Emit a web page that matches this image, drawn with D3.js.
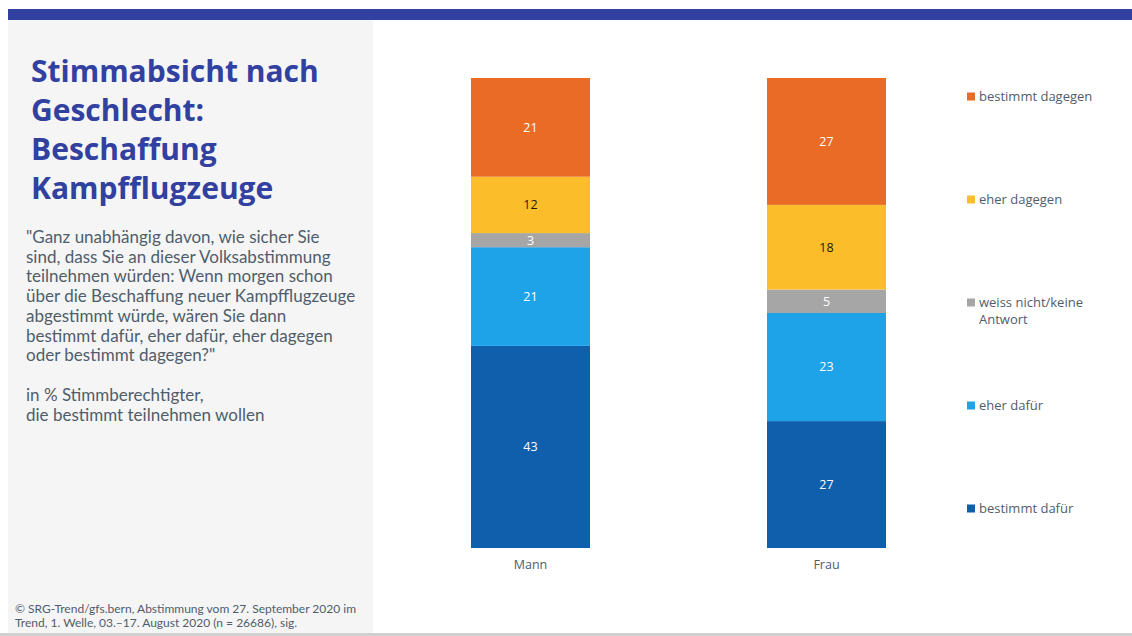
<!DOCTYPE html>
<html>
<head>
<meta charset="utf-8">
<script src="https://cdn.jsdelivr.net/npm/d3@7"></script>
<style>
  html, body { margin: 0; padding: 0; background: #ffffff; }
  svg { display: block; }
  text { font-family: "Open Sans", "Noto Sans", sans-serif; }
  .body-text { font-family: Lato, "Open Sans", sans-serif; }
</style>
</head>
<body>
<svg id="chart" width="1132" height="636"></svg>
<script>
// Groups and answer categories (stacked from bottom to top)
const groups = ["Mann", "Frau"];
const categories = ["bestimmt dafür", "eher dafür", "weiss nicht/keine Antwort", "eher dagegen", "bestimmt dagegen"];
const colors = ["#0f5fad", "#1fa3e8", "#a6a6a6", "#fbbd2a", "#e96b25"];
const labelColors = ["#ffffff", "#ffffff", "#ffffff", "#1a1a1a", "#ffffff"];

// Shares in % per group, same order as categories
const mannValues = [43, 21, 3, 12, 21];
const frauValues = [27, 23, 5, 18, 27];

const titleLines = ["Stimmabsicht nach", "Geschlecht:", "Beschaffung", "Kampfflugzeuge"];
const questionLines = [
  "\"Ganz unabhängig davon, wie sicher Sie",
  "sind, dass Sie an dieser Volksabstimmung",
  "teilnehmen würden: Wenn morgen schon",
  "über die Beschaffung neuer Kampfflugzeuge",
  "abgestimmt würde, wären Sie dann",
  "bestimmt dafür, eher dafür, eher dagegen",
  "oder bestimmt dagegen?\""
];
const baseLines = ["in % Stimmberechtigter,", "die bestimmt teilnehmen wollen"];
const sourceLines = [
  "© SRG-Trend/gfs.bern, Abstimmung vom 27. September 2020 im",
  "Trend, 1. Welle, 03.–17. August 2020 (n = 26686), sig."
];

const svg = d3.select("#chart");
const W = 1132, H = 636;
const textGrey = "#4f5d6b";

// Frame: side panel, top band, bottom rule
svg.append("rect").attr("x", 8).attr("y", 20).attr("width", 365).attr("height", 613).attr("fill", "#f5f5f5");
svg.append("rect").attr("x", 8).attr("y", 9).attr("width", W - 8).attr("height", 11).attr("fill", "#3240a0");
svg.append("rect").attr("x", 0).attr("y", 633).attr("width", W).attr("height", 3).attr("fill", "#d0d0d0");

// Title
svg.append("text")
  .attr("x", 31).attr("y", 82)
  .attr("fill", "#3240a0")
  .style("font-size", "30px").style("font-weight", "700")
  .selectAll("tspan").data(titleLines).join("tspan")
  .attr("x", 31).attr("dy", (d, i) => i === 0 ? 0 : 39)
  .text(d => d);

// Multi-line text block, one text element per line
function textBlock(lines, x0, y0, lineH, size) {
  svg.append("g").selectAll("text").data(lines).join("text")
    .attr("class", "body-text")
    .attr("x", x0)
    .attr("y", (d, i) => y0 + i * lineH)
    .attr("fill", textGrey)
    .style("font-size", size)
    .text(d => d);
}

textBlock(questionLines, 26, 243, 19.7, "17px");
textBlock(baseLines, 26, 401, 19.7, "17px");
textBlock(sourceLines, 15, 613, 13.5, "12px");

// Scales
const x = d3.scaleBand().domain(groups).range([323, 1034]).paddingInner(0.598).paddingOuter(0.5);
const y = d3.scaleLinear().domain([0, 100]).range([548, 78]);

// Stack data
const table = groups.map((g, gi) => {
  const vals = gi === 0 ? mannValues : frauValues;
  const row = { group: g };
  categories.forEach((c, ci) => { row[c] = vals[ci]; });
  return row;
});
const series = d3.stack().keys(categories)(table);

const layer = svg.append("g").selectAll("g").data(series).join("g")
  .attr("fill", (d, i) => colors[i]);

layer.selectAll("rect").data(d => d).join("rect")
  .attr("x", d => x(d.data.group))
  .attr("width", x.bandwidth())
  .attr("y", d => y(d[1]))
  .attr("height", d => y(d[0]) - y(d[1]));

// Value labels
series.forEach((s, si) => {
  svg.append("g").selectAll("text").data(s).join("text")
    .attr("x", d => x(d.data.group) + x.bandwidth() / 2)
    .attr("y", d => (y(d[0]) + y(d[1])) / 2)
    .attr("dy", "0.35em")
    .attr("text-anchor", "middle")
    .attr("fill", labelColors[si])
    .style("font-size", "12.5px")
    .text(d => d.data[s.key]);
});

// Category axis
const xAxis = svg.append("g")
  .attr("transform", `translate(0,${y(0)})`)
  .call(d3.axisBottom(x).tickSize(0).tickPadding(12));
xAxis.select(".domain").remove();
xAxis.selectAll("text")
  .attr("fill", textGrey)
  .style("font-size", "12.5px")
  .style("font-family", "\"Open Sans\", sans-serif");

// Legend (top to bottom: reverse of stack order)
const legendY = [96, 199, 302, 405, 508];
const legendItems = categories.map((c, i) => ({ c, color: colors[i] })).reverse();
const lg = svg.append("g").selectAll("g").data(legendItems).join("g")
  .attr("transform", (d, i) => `translate(967,${legendY[i]})`);
lg.append("rect").attr("x", 0).attr("y", -3.5).attr("width", 8).attr("height", 8)
  .attr("fill", d => d.color);
lg.each(function(d) {
  const parts = d.c === "weiss nicht/keine Antwort" ? ["weiss nicht/keine", "Antwort"] : [d.c];
  d3.select(this).selectAll("text").data(parts).join("text")
    .attr("x", 12).attr("y", (p, i) => i * 17).attr("dy", "0.35em")
    .attr("fill", textGrey)
    .style("font-size", "13px")
    .text(p => p);
});
</script>
</body>
</html>
